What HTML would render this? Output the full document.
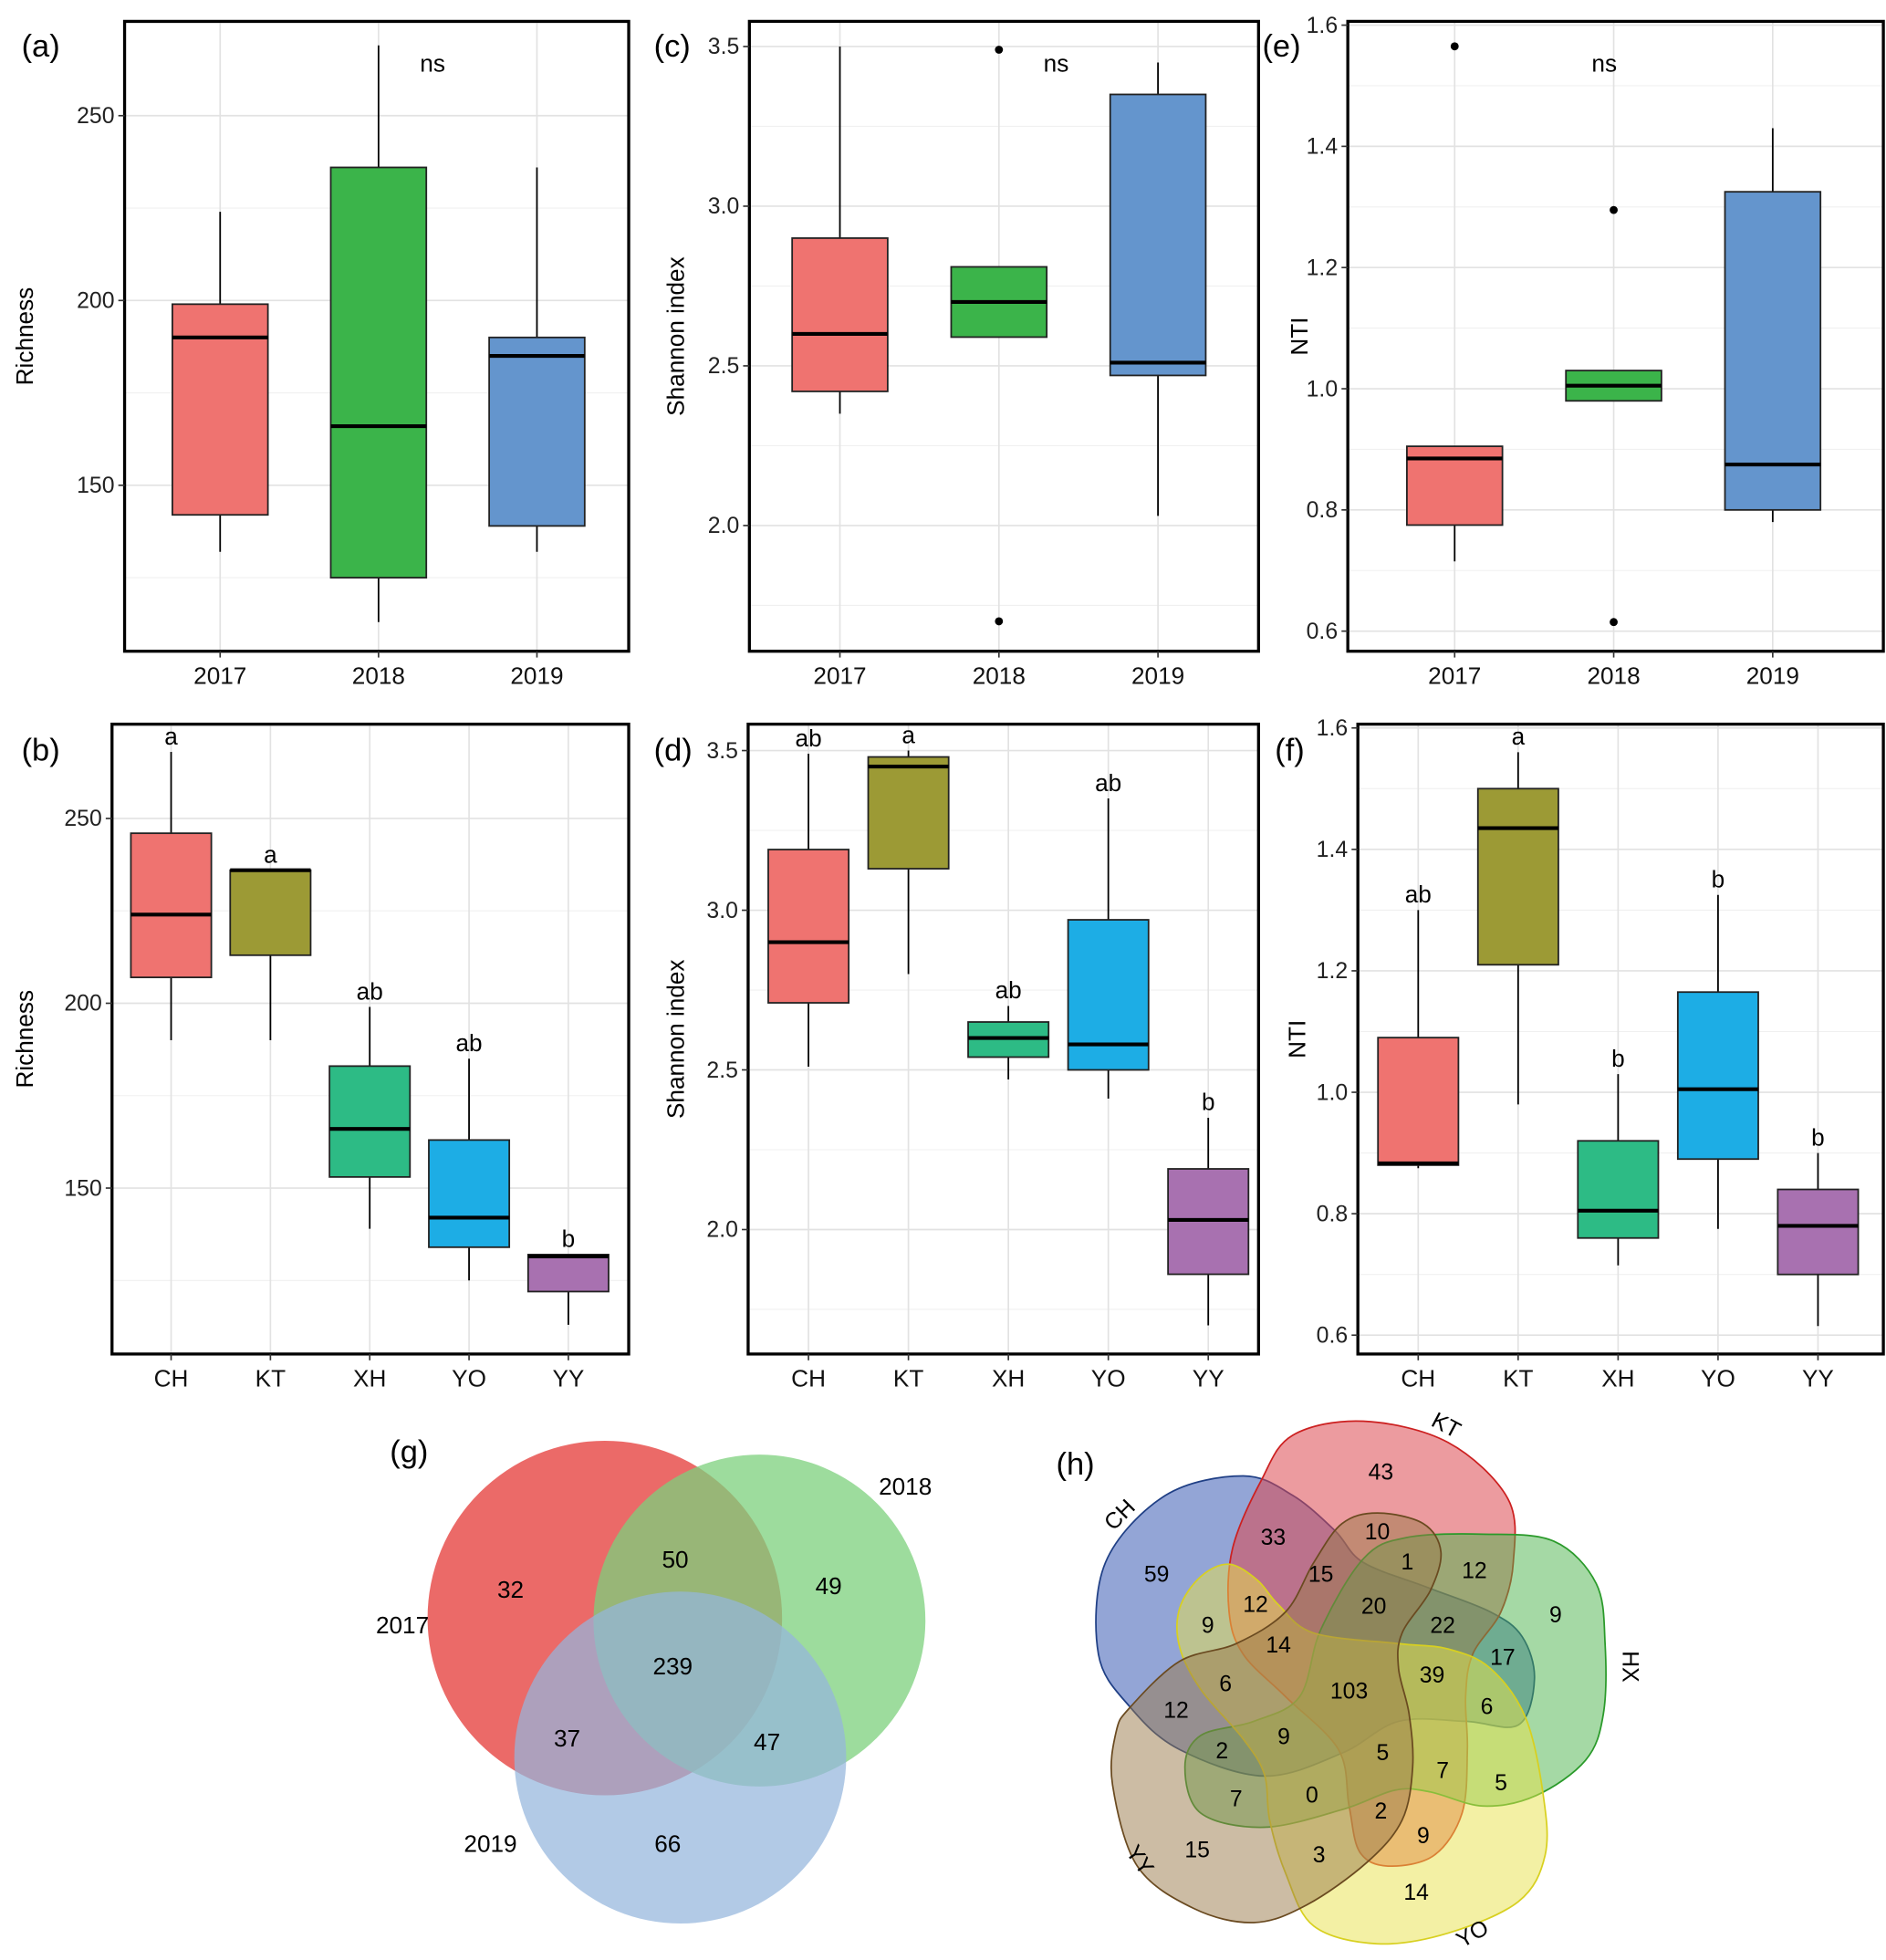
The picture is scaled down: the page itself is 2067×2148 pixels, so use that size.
<!DOCTYPE html>
<html><head><meta charset="utf-8"><style>
html,body{margin:0;padding:0;background:#fff}
svg{display:block;font-family:"Liberation Sans",Arial,sans-serif}
</style></head><body>
<svg id="fig" width="2067" height="2148" viewBox="0 0 1500 1559" xmlns="http://www.w3.org/2000/svg"></svg>
<script>
// ---- data ----
const yearCats = ["2017","2018","2019"];
const siteCats = ["CH","KT","XH","YO","YY"];
const yearColors = ["#EF7370","#3BB44A","#6495CD"];
const siteColors = ["#EF7370","#9C9A35","#2DBB85","#1DADE5","#A871B0"];
// [lo, q1, med, q3, hi]
const richYear = [[132,142,190,199,224],[113,125,166,236,269],[132,139,185,190,236]];
const shanYear = [[2.35,2.42,2.60,2.90,3.50],[2.59,2.59,2.70,2.81,2.81],[2.03,2.47,2.51,3.35,3.45]];
const ntiYear  = [[0.715,0.775,0.885,0.905,0.905],[0.98,0.98,1.005,1.03,1.03],[0.78,0.80,0.875,1.325,1.43]];
const shanYearOut = [[],[3.49,1.70],[]];
const ntiYearOut  = [[1.565],[1.295,0.615],[]];
const richSite = [[190,207,224,246,268],[190,213,236,236,236],[139,153,166,183,199],[125,134,142,163,185],[113,122,131.5,132,132]];
const shanSite = [[2.51,2.71,2.90,3.19,3.49],[2.80,3.13,3.45,3.48,3.50],[2.47,2.54,2.60,2.65,2.70],[2.41,2.50,2.58,2.97,3.35],[1.70,1.86,2.03,2.19,2.35]];
const ntiSite  = [[0.875,0.88,0.883,1.09,1.30],[0.98,1.21,1.435,1.50,1.56],[0.715,0.76,0.805,0.92,1.03],[0.775,0.89,1.005,1.165,1.325],[0.615,0.70,0.78,0.84,0.90]];
const richLetters = ["a","a","ab","ab","b"];
const shanLetters = ["ab","a","ab","ab","b"];
const ntiLetters  = ["ab","a","b","b","b"];
const richTicks = [150,200,250];
const shanTicks = [2.0,2.5,3.0,3.5];
const ntiTicks = [0.6,0.8,1.0,1.2,1.4,1.6];

const NS="http://www.w3.org/2000/svg";
const svg=document.getElementById('fig');
function el(tag,attrs,parent,text){const e=document.createElementNS(NS,tag);for(const k in attrs)e.setAttribute(k,attrs[k]);if(text!==undefined)e.textContent=text;(parent||svg).appendChild(e);return e;}

function panel(o){
  const g=el('g',{});
  
  
  const y=v=>o.y0px+(v-o.y0)*(o.y1px-o.y0px)/(o.y1-o.y0);
  const n=o.cats.length;
  const x=i=>o.xs[0]+i*(o.xs[1]-o.xs[0])/(n-1);
  const step=o.ticks[1]-o.ticks[0];
  for(let v=o.ticks[0]-step;v<=o.ticks[o.ticks.length-1]+step;v+=step/2){
    const yy=y(v); if(yy<=o.top||yy>=o.bot) continue;
    const major=o.ticks.some(t=>Math.abs(t-v)<1e-6);
    const l=el('line',{x1:o.left,x2:o.right,y1:yy,y2:yy,stroke:major?'#E2E2E2':'#F0F0F0','stroke-width':major?1.2:0.8},g);
    
  }
  for(let i=0;i<n;i++){const l=el('line',{x1:x(i),x2:x(i),y1:o.top,y2:o.bot,stroke:'#E2E2E2','stroke-width':1.2},g);
    }
  for(let i=0;i<n;i++){
    const d=o.data[i], bw=o.bw, cx=x(i);
    const bg=el('g',{},g);
    
    
    el('line',{x1:cx,x2:cx,y1:y(d[0]),y2:y(d[4]),stroke:'#000','stroke-width':1.3},bg);
    el('rect',{x:cx-bw/2,y:y(d[3]),width:bw,height:Math.max(y(d[1])-y(d[3]),0.5),fill:o.colors[i],stroke:'#222','stroke-width':1.3},bg);
    el('line',{x1:cx-bw/2,x2:cx+bw/2,y1:y(d[2]),y2:y(d[2]),stroke:'#000','stroke-width':3},bg);
    if(o.out) o.out[i].forEach(v=>{const c=el('circle',{cx:cx,cy:y(v),r:3.2,fill:'#000'},bg);});
    if(o.letters){const t=el('text',{x:cx,y:y(d[4])-6,'text-anchor':'middle','font-size':19},bg,o.letters[i]);}
  }
  if(o.ns){const t=el('text',{x:o.ns[0],y:o.ns[1],'text-anchor':'middle','font-size':19},g,'ns');}
  el('rect',{x:o.left,y:o.top,width:o.right-o.left,height:o.bot-o.top,fill:'none',stroke:'#000','stroke-width':2.4},g);
  o.ticks.forEach(v=>{const yy=y(v);
    el('line',{x1:o.left-5,x2:o.left,y1:yy,y2:yy,stroke:'#333','stroke-width':1.2},g);
    const t=el('text',{x:o.left-8,y:yy+6,'text-anchor':'end','font-size':18,fill:'#222'},g,o.fmt(v));
    });
  for(let i=0;i<n;i++){
    el('line',{x1:x(i),x2:x(i),y1:o.bot,y2:o.bot+5,stroke:'#333','stroke-width':1.2},g);
    const t=el('text',{x:x(i),y:o.bot+26,'text-anchor':'middle','font-size':19,fill:'#111'},g,o.cats[i]);
    }
  const my=(o.top+o.bot)/2;
  const yt=el('text',{x:o.ytx,y:my,'text-anchor':'middle','font-size':19,transform:`rotate(-90 ${o.ytx} ${my})`},g,o.ytitle);
  
  const pl=el('text',{x:o.lab[0],y:o.lab[1],'font-size':25},g,o.label);
  
}
const f0=v=>String(v), f1=v=>v.toFixed(1);
panel({name:'panel-a',left:99,right:500,top:17,bot:518,y0:200,y0px:239,y1:250,y1px:92,ticks:richTicks,cats:yearCats,xs:[175,427],bw:76,data:richYear,colors:yearColors,fmt:f0,ytitle:'Richness',ytx:26,label:'(a)',lab:[17,45],ns:[344,57]});
panel({name:'panel-c',left:596,right:1001,top:17,bot:518,y0:2.0,y0px:418,y1:3.5,y1px:37,ticks:shanTicks,cats:yearCats,xs:[668,921],bw:76,data:shanYear,out:shanYearOut,colors:yearColors,fmt:f1,ytitle:'Shannon index',ytx:544,label:'(c)',lab:[520,45],ns:[840,57]});
panel({name:'panel-e',left:1072,right:1498,top:17,bot:518,y0:0.6,y0px:502,y1:1.6,y1px:20,ticks:ntiTicks,cats:yearCats,xs:[1157,1410],bw:76,data:ntiYear,out:ntiYearOut,colors:yearColors,fmt:f1,ytitle:'NTI',ytx:1040,label:'(e)',lab:[1004,45],ns:[1276,57]});
panel({name:'panel-b',left:89,right:500,top:576,bot:1077,y0:200,y0px:798,y1:250,y1px:651,ticks:richTicks,cats:siteCats,xs:[136,452],bw:64,data:richSite,colors:siteColors,letters:richLetters,fmt:f0,ytitle:'Richness',ytx:26,label:'(b)',lab:[17,605]});
panel({name:'panel-d',left:595,right:1001,top:576,bot:1077,y0:2.0,y0px:978,y1:3.5,y1px:597,ticks:shanTicks,cats:siteCats,xs:[643,961],bw:64,data:shanSite,colors:siteColors,letters:shanLetters,fmt:f1,ytitle:'Shannon index',ytx:544,label:'(d)',lab:[520,605]});
panel({name:'panel-f',left:1080,right:1498,top:576,bot:1077,y0:0.6,y0px:1062,y1:1.6,y1px:579,ticks:ntiTicks,cats:siteCats,xs:[1128,1446],bw:64,data:ntiSite,colors:siteColors,letters:ntiLetters,fmt:f1,ytitle:'NTI',ytx:1038,label:'(f)',lab:[1014,605]});

// ---- Venn (g) ----
const vennG=el('g',{});


[[481,1287,141,'#E8504E',0.85,'venn-2017'],[604,1289,132,'#7CD07C',0.75,'venn-2018'],[541,1398,132,'#94B6DC',0.72,'venn-2019']].forEach(c=>{
  const e=el('circle',{cx:c[0],cy:c[1],r:c[2],fill:c[3],'fill-opacity':c[4]},vennG);
  });
[[406,1271,'32'],[537,1247,'50'],[659,1268,'49'],[535,1332,'239'],[451,1389,'37'],[610,1392,'47'],[531,1473,'66'],[320,1299,'2017'],[720,1189,'2018'],[390,1473,'2019']].forEach(t=>{
  const e=el('text',{x:t[0],y:t[1],'text-anchor':'middle','font-size':19},vennG,t[2]);
  });
el('text',{x:310,y:1163,'font-size':25},vennG,'(g)');

// ---- Venn (h) ----
function smooth(p){let d=`M${p[0][0]},${p[0][1]}`;const n=p.length;
  for(let i=0;i<n;i++){const p0=p[(i-1+n)%n],p1=p[i],p2=p[(i+1)%n],p3=p[(i+2)%n];
    d+=` C${p1[0]+(p2[0]-p0[0])/6},${p1[1]+(p2[1]-p0[1])/6} ${p2[0]-(p3[0]-p1[0])/6},${p2[1]-(p3[1]-p1[1])/6} ${p2[0]},${p2[1]}`;}
  return d+'Z';}
const vh=el('g',{transform:'scale(0.72569) translate(1200,1550) scale(0.387)'});


const shapes=[
 ['venn-ch','#3A5BB5','#1F3F85',0.55,[[420,175],[560,230],[680,330],[760,420],[940,490],[1120,560],[1210,630],[1245,750],[1200,880],[1050,870],[860,870],[700,960],[480,1025],[240,950],[100,830],[10,680],[30,420],[200,230]]],
 ['venn-kt','#DD4850','#CC2020',0.55,[[470,190],[560,60],[760,20],[1000,80],[1170,240],[1185,420],[1150,560],[1070,680],[1050,800],[1055,950],[1040,1130],[960,1250],[830,1280],[750,1240],[720,1110],[690,950],[540,800],[420,680],[380,560],[390,380]]],
 ['venn-hx','#4CB34C','#2A9A2A',0.5,[[760,410],[880,350],[1100,340],[1300,360],[1420,480],[1445,650],[1440,850],[1390,980],[1250,1080],[1100,1110],[950,1070],[850,1065],[700,1120],[480,1170],[300,1130],[255,1000],[300,910],[450,870],[580,800],[640,610]]],
 ['venn-yo','#E8E24A','#D8D020',0.5,[[380,425],[460,470],[520,540],[620,620],[860,650],[1000,665],[1120,720],[1220,860],[1270,1080],[1275,1250],[1200,1380],[1000,1470],[800,1500],[620,1450],[540,1300],[495,1150],[480,1020],[420,920],[300,780],[240,660],[240,550],[300,460]]],
 ['venn-yy','#9A7A4A','#6A4A20',0.5,[[100,830],[240,700],[400,650],[540,560],[620,420],[700,310],[800,280],[930,310],[980,390],[950,500],[870,620],[860,720],[890,850],[900,1000],[870,1150],[770,1270],[600,1390],[450,1440],[280,1400],[120,1280],[50,1050],[60,900]]]
];
shapes.forEach(s=>{const p=el('path',{d:smooth(s[4]),fill:s[1],'fill-opacity':s[3],stroke:s[2],'stroke-width':4.5},vh);
  });
[[810,185,'43'],[505,370,'33'],[800,355,'10'],[175,475,'59'],[640,475,'15'],[885,440,'1'],[1075,465,'12'],[455,560,'12'],[790,565,'20'],[320,620,'9'],[520,675,'14'],[985,620,'22'],[1305,590,'9'],[1155,710,'17'],[955,760,'39'],[720,805,'103'],[370,785,'6'],[1110,850,'6'],[230,860,'12'],[535,935,'9'],[360,975,'2'],[815,980,'5'],[985,1030,'7'],[1150,1065,'5'],[400,1110,'7'],[615,1100,'0'],[810,1145,'2'],[930,1215,'9'],[290,1255,'15'],[635,1270,'3'],[910,1375,'14']].forEach(t=>{
  const e=el('text',{x:t[0],y:t[1],'text-anchor':'middle','font-size':64},vh,t[2]);
  });
[[85,300,-45,'CH'],[985,50,28,'KT'],[1495,715,90,'HX'],[1080,1490,-30,'YO'],[110,1275,55,'YY']].forEach(t=>{
  const e=el('text',{x:t[0],y:t[1],'text-anchor':'middle','font-size':64,transform:`rotate(${t[2]} ${t[0]} ${t[1]})`},vh,t[3]);
  });
el('text',{x:840,y:1173,'font-size':25},svg,'(h)');
</script>
</body></html>
